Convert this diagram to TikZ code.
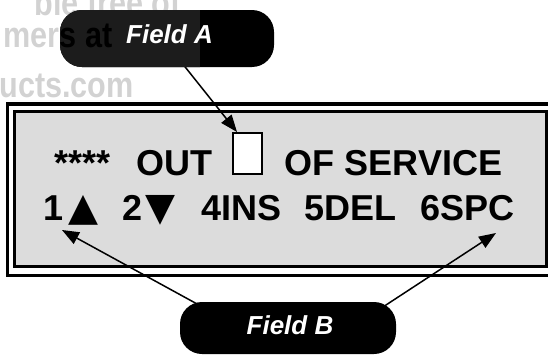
\documentclass[tikz,border=0pt]{standalone}
\usepackage{fontspec}
\usepackage{graphicx}
\setmainfont{Liberation Sans}
\newfontfamily\symf{DejaVu Sans}
\newcommand\lcdtri[1]{{\symf\fontsize{39}{40}\selectfont #1}}
\newcommand\wmscale[1]{\scalebox{0.85}[1]{#1}}
\usetikzlibrary{arrows.meta}
\definecolor{lcd}{HTML}{DCDCDC}
\definecolor{wm}{HTML}{D2D2D2}
\definecolor{ovl}{HTML}{1C1C1C}
\begin{document}
\begin{tikzpicture}[x=1pt,y=-1pt,
  lcdtext/.style={font=\fontsize{36}{40}\selectfont\bfseries, anchor=base west, inner sep=0pt},
  callout/.style={fill=black, rounded corners=22pt, inner sep=0pt},
  calltext/.style={font=\fontsize{26}{30}\selectfont\bfseries\itshape, text=white, anchor=base, inner sep=0pt},
  wmtext/.style={font=\fontsize{36}{40}\selectfont\bfseries, text=wm, inner sep=0pt},
  pointer/.style={line width=1.5pt, -{Triangle[length=17pt,width=13pt]}}]
\useasboundingbox (0,0) rectangle (548,356);
\begin{scope}
  \clip (0,0) rectangle (548,356);
  % watermark
  \node[wmtext, anchor=base east] (wm1) at (181,15) {\wmscale{ble free of}};
  \node[wmtext, anchor=base east] (wm3) at (134,97) {\wmscale{ucts.com}};
  \coordinate (wmsplit) at (59.5,47);
  \node[wmtext, anchor=base east] (wm2a) at (wmsplit) {\wmscale{mer}};
  % LCD frame
  \draw[line width=3.5pt] (7.5,104) rectangle (560,275.5);
  \draw[line width=3pt, fill=lcd] (14.5,111) rectangle (546,266.5);
\end{scope}
% display text
\node[lcdtext] (stars) at (54,175) {****};
\node[lcdtext] (out) at (136.5,175) {OUT};
\node[draw, fill=white, line width=1.2pt, minimum width=29pt, minimum height=41pt, inner sep=0pt] (fieldA) at (247.5,153.5) {};
\node[lcdtext] (oos) at (284.5,175) {OF SERVICE};
\node[lcdtext] (k1) at (43.5,220) {1\kern5pt\lcdtri{▲}};
\node[lcdtext] (k2) at (122,220) {2\kern3.5pt\lcdtri{▼}};
\node[lcdtext] (k4) at (201,220) {4INS};
\node[lcdtext] (k5) at (304.5,220) {5DEL};
\node[lcdtext] (k6) at (420.5,220) {6SPC};
% pointers
\coordinate (sA) at (170,48);
\coordinate (tA) at (237,132);
\coordinate (sB1) at (230,322);
\coordinate (tB1) at (62,230);
\coordinate (sB2) at (360,322);
\coordinate (tB2) at (496,233);
\draw[pointer] (sA) -- (tA);
\draw[pointer] (sB1) -- (tB1);
\draw[pointer] (sB2) -- (tB2);
% callouts
\node[callout, minimum width=214pt, minimum height=57pt] (fa) at (167,38.5) {};
\node[callout, minimum width=216pt, minimum height=52pt] (fb) at (288,328) {};
\begin{scope}
  \clip[rounded corners=22pt] (60,10) rectangle (274,67);
  \fill[ovl] (0,0) rectangle (200,100);
  \node[wmtext, text=black, anchor=base west] (wm2b) at (wmsplit) {\wmscale{s at}};
\end{scope}
\node[calltext] (faT) at (169.5,43) {Field A};
\node[calltext] (fbT) at (290,334) {Field B};
\end{tikzpicture}
\end{document}
